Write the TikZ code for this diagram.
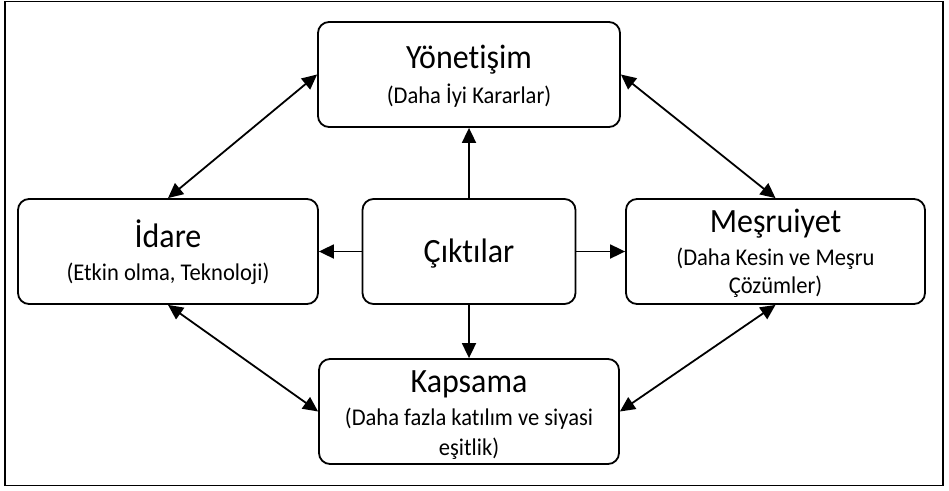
\documentclass[tikz,border=0pt]{standalone}
\usepackage{fontspec}
\setmainfont[FakeStretch=0.94, Ligatures={NoCommon,NoContextual}]{Carlito}
\usetikzlibrary{arrows.meta}
\begin{document}
\begin{tikzpicture}[x=1pt,y=-1pt,
  box/.style={draw, line width=1.8pt, rounded corners=11pt, inner sep=0pt},
  ttl/.style={anchor=base, inner sep=0pt, font=\fontsize{34}{36}\selectfont},
  sub/.style={anchor=base, inner sep=0pt, font=\fontsize{24}{28}\selectfont},
  conn/.style={line width=1.8pt, -{Triangle[length=15pt,width=14pt]}},
  biconn/.style={line width=1.8pt, {Triangle[length=15pt,width=14pt]}-{Triangle[length=15pt,width=14pt]}}]
\useasboundingbox (0,0) rectangle (949,490);
\draw[line width=1.6pt] (5,1.5) rectangle (943,485.5);

% boxes
\node[box, minimum width=302pt, minimum height=105pt] (yon) at (469,74.5) {};
\node[box, minimum width=300pt, minimum height=105pt] (idare) at (168,251.5) {};
\node[box, minimum width=299pt, minimum height=105pt] (mesru) at (775.5,251.5) {};
\node[box, minimum width=300pt, minimum height=105pt] (kaps) at (469,411.5) {};
\node[box, minimum width=213pt, minimum height=105pt] (cikti) at (469,251.5) {};

% texts
\node[ttl] (yon-t) at (469,68) {Yönetişim};
\node[sub] (yon-s) at (469,103) {(Daha İyi Kararlar)};
\node[ttl] (idare-t) at (168,247) {İdare};
\node[sub] (idare-s) at (168,280) {(Etkin olma, Teknoloji)};
\node[ttl] (mesru-t) at (775.5,232) {Meşruiyet};
\node[sub] (mesru-s1) at (775.5,265) {(Daha Kesin ve Meşru};
\node[sub] (mesru-s2) at (775.5,293) {Çözümler)};
\node[ttl] (kaps-t) at (469,392) {Kapsama};
\node[sub] (kaps-s1) at (469,425) {(Daha fazla katılım ve siyasi};
\node[sub] (kaps-s2) at (469,455) {eşitlik)};
\node[ttl] (cikti-t) at (469,262) {Çıktılar};

% connectors
\draw[conn] (cikti.north) -- (yon.south);
\draw[conn] (cikti.south) -- (kaps.north);
\draw[conn] (cikti.west) -- (idare.east);
\draw[conn] (cikti.east) -- (mesru.west);
\draw[biconn] (idare.north) -- (yon.west);
\draw[biconn] (yon.east) -- (mesru.north);
\draw[biconn] (mesru.south) -- (kaps.east);
\draw[biconn] (idare.south) -- (kaps.west);
\end{tikzpicture}
\end{document}
